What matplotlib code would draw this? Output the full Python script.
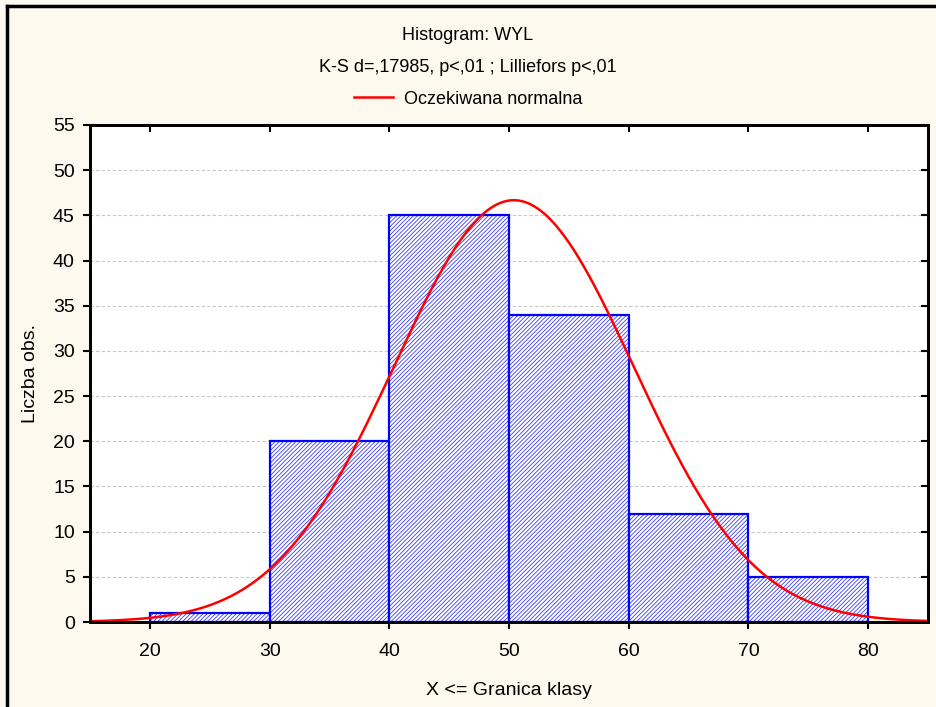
import math
import matplotlib.pyplot as plt
import matplotlib.colors as mcolors
import numpy as np

plt.rcParams['font.family'] = ['Liberation Sans', 'DejaVu Sans']
plt.rcParams['hatch.linewidth'] = 0.6

# class edges and counts
bin_left = [20, 30, 40, 50, 60, 70]
counts = [1, 20, 45, 34, 12, 5]
bin_width = 10

# expected normal fit
fit_mean = 50.4
fit_sd = 10.0
n_obs = sum(counts)

x_ticks = [20, 30, 40, 50, 60, 70, 80]
y_ticks = list(range(0, 60, 5))

bg = '#fdf9ee'
fig = plt.figure(figsize=(9.36, 7.07), dpi=100, facecolor=bg)
ax = fig.add_axes([0.0962, 0.1202, 0.8953, 0.7030])
ax.set_facecolor('white')

bars = ax.bar(bin_left, counts, width=bin_width, align='edge', color='white',
              edgecolor='#0000ff', hatch='////////', linewidth=1.6, zorder=2)
# blue hatch lines, edges stay pure blue
for b in bars:
    b._hatch_color = mcolors.to_rgba('#3c3cff')

X = np.linspace(15, 85, 400)
Y = [n_obs * bin_width / (fit_sd * math.sqrt(2 * math.pi)) *
     math.exp(-0.5 * ((x - fit_mean) / fit_sd) ** 2) for x in X]
line, = ax.plot(X, Y, color='#ff0000', linewidth=1.8, zorder=3,
                label='Oczekiwana normalna')

ax.set_xlim(15, 85)
ax.set_ylim(0, 55)
ax.set_xticks(x_ticks)
ax.set_yticks(y_ticks)
ax.yaxis.grid(True, color='#c8c8c8', linestyle=(0, (3, 2)), linewidth=0.8, zorder=0)
ax.set_axisbelow(True)
ax.tick_params(axis='both', labelsize=14, length=5, width=1.5, direction='out')
ax.tick_params(axis='x', pad=10)
ax.tick_params(axis='y', pad=6)

# inward ticks on top and right
top = ax.twiny()
top.set_xlim(ax.get_xlim())
top.set_xticks(x_ticks)
top.tick_params(axis='x', direction='in', length=5, width=1.5, labeltop=False)
right = ax.twinx()
right.set_ylim(ax.get_ylim())
right.set_yticks(y_ticks)
right.tick_params(axis='y', direction='in', length=5, width=1.5, labelright=False)
for a in (ax, top, right):
    for s in a.spines.values():
        s.set_linewidth(1.8)

ax.set_xlabel('X <= Granica klasy', fontsize=14, labelpad=16)
ax.set_ylabel('Liczba obs.', fontsize=14, labelpad=10)

fig.text(0.5, 1 - 35 / 707, 'Histogram: WYL', ha='center', va='center', fontsize=13)
fig.text(0.5, 1 - 67 / 707, 'K-S d=,17985, p<,01 ; Lilliefors p<,01',
         ha='center', va='center', fontsize=13)
fig.legend(handles=[line], loc='center', bbox_to_anchor=(0.5, 1 - 99 / 707),
           frameon=False, fontsize=13, handlelength=2.2, handletextpad=0.6)

# figure border (left and top)
fig.add_artist(plt.Line2D([7 / 936, 7 / 936], [0, 1 - 6 / 707], color='black',
                          linewidth=2.5, transform=fig.transFigure))
fig.add_artist(plt.Line2D([7 / 936, 1], [1 - 6 / 707, 1 - 6 / 707], color='black',
                          linewidth=2.5, transform=fig.transFigure))

plt.savefig('out.png', dpi=100, facecolor=bg)
